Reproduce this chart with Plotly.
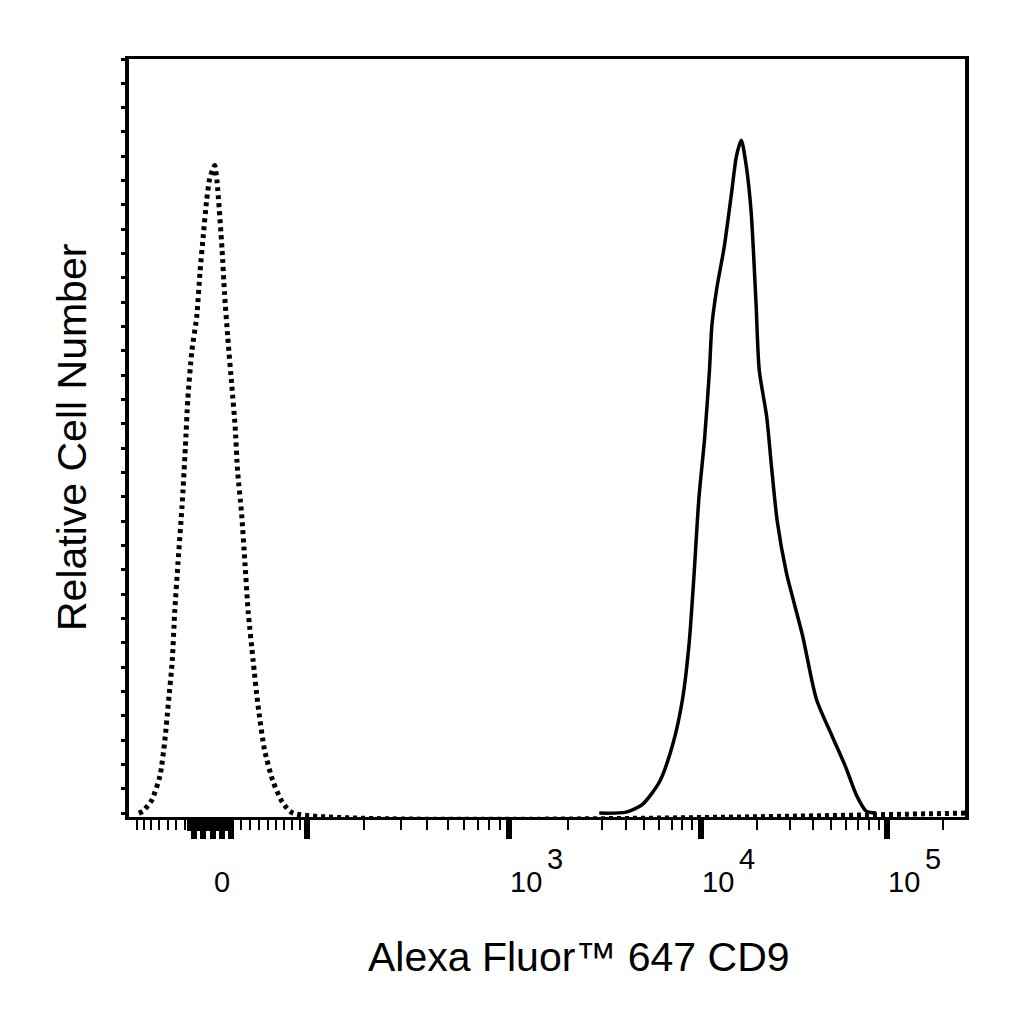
import numpy as np
import plotly.graph_objects as go

# histogram bins on the 1024-channel display scale and cells per bin
cd9_channel = [576, 609, 629, 650, 666, 678, 686, 692, 698, 705, 711, 714, 720, 729, 738, 744, 750,
               756, 762, 768, 772, 781, 787, 794, 805, 812, 825, 842, 861, 878, 891, 903, 915]
cd9_count = [0, 0.2, 1.8, 6.5, 14.1, 23.4, 34.7, 48.7, 64.6, 76.9, 91.0, 100.3, 107.9, 116.3, 127.4, 135.0, 138.3,
             133.1, 123.7, 104.9, 91.0, 81.6, 71.2, 60.0, 49.6, 44.9, 36.5, 23.4, 15.9, 9.4, 3.7, 0.4, 0]

iso_channel = [12, 17, 28, 38, 44, 48, 53, 56, 60, 65, 69, 72, 77, 83, 87, 91, 95, 99, 105, 108,
               114, 117, 121, 126, 130, 133, 138, 142, 146, 152, 158, 166, 176, 188, 201, 1024]
iso_count = [0, 0.4, 2.7, 7.7, 15.1, 22.2, 31.4, 41.4, 51.4, 63.2, 75.0, 85.0, 95.0, 102.1, 111.3, 118.7, 125.8, 130.5, 133.1, 129.5,
             115.8, 106.8, 97.7, 87.7, 79.5, 70.3, 61.4, 51.4, 41.4, 31.4, 22.2, 13.0, 6.7, 2.2, 0, 0]

major_vals = [-30, -20, -10, 0, 10, 100, 1000, 10000, 100000]
fill_vals = [-35, -25, -15, -5, 5]
minor_vals = ([-100, -90, -80, -70, -60, -50, -40] + [20, 30, 40, 50, 60, 70, 80, 90]
              + [k * 100 for k in range(2, 10)] + [k * 1000 for k in range(2, 10)]
              + [k * 10000 for k in range(2, 10)] + [200000])
label_vals = [0, 1000, 10000, 100000]
label_base = ["0", "10", "10", "10"]
label_exp = ["", "3", "4", "5"]

# logicle (biexponential) display scale
T, M, W, A = 262144.0, 4.5, 0.5, 0.0


def logicle_inv(y):
    w = W / (M + A)
    x1 = A / (M + A) + w
    x0 = A / (M + A) + 2 * w
    b = (M + A) * np.log(10)
    lo, hi = 1e-6, b
    for _ in range(100):
        d = (lo + hi) / 2
        if 2 * (np.log(d) - np.log(b)) + w * (b + d) > 0:
            hi = d
        else:
            lo = d
    ca = np.exp(x0 * (b + d))
    mfa = np.exp(b * x1) - ca / np.exp(d * x1)
    a = T / ((np.exp(b) - mfa) - ca / np.exp(d))
    c = ca * a
    f = -mfa * a
    y = np.asarray(y, dtype=float)
    yy = np.where(y >= x1, y, 2 * x1 - y)
    s = a * np.exp(b * yy) - c * np.exp(-d * yy) + f
    return np.where(y >= x1, s, -s)


grid = np.linspace(-0.05, 1.05, 40001)
grid_val = logicle_inv(grid)


def to_channel(v):
    return np.interp(np.asarray(v, dtype=float), grid_val, grid) * 1024


fig = go.Figure()
fig.add_trace(go.Scatter(x=iso_channel, y=iso_count, mode="lines",
                         line=dict(color="black", width=5, dash="4px,4px", shape="spline", smoothing=0.6)))
fig.add_trace(go.Scatter(x=cd9_channel, y=cd9_count, mode="lines",
                         line=dict(color="black", width=3.5, shape="spline", smoothing=0.7)))
# empty trace so the second tick axis is drawn
fig.add_trace(go.Scatter(x=[], y=[], xaxis="x2", hoverinfo="skip"))

font = "Liberation Sans, Arial, sans-serif"
ann = []
for v, base, ex in zip(label_vals, label_base, label_exp):
    xc = float(to_channel(v))
    if ex == "":
        ann.append(dict(x=xc, y=0, xref="x", yref="paper", text=base, showarrow=False,
                        xanchor="center", yanchor="middle", yshift=-65, font=dict(size=29)))
    else:
        ann.append(dict(x=xc, y=0, xref="x", yref="paper", text=base, showarrow=False,
                        xanchor="center", yanchor="middle", xshift=17, yshift=-65, font=dict(size=29)))
        ann.append(dict(x=xc, y=0, xref="x", yref="paper", text=ex, showarrow=False,
                        xanchor="center", yanchor="middle", xshift=46, yshift=-42, font=dict(size=29)))

ann.append(dict(x=0.538, y=0, xref="paper", yref="paper", text="Alexa Fluor™ 647 CD9", showarrow=False,
                xanchor="center", yanchor="middle", yshift=-140, font=dict(size=41)))
ann.append(dict(x=0, y=0.5, xref="paper", yref="paper", text="Relative Cell Number", showarrow=False,
                textangle=-90, xanchor="center", yanchor="middle", xshift=-57, font=dict(size=41)))

fig.update_layout(
    width=1008, height=1008,
    margin=dict(l=121, r=51, t=51, b=199),
    paper_bgcolor="white", plot_bgcolor="white",
    showlegend=False,
    font=dict(family=font, color="black"),
    annotations=ann,
    xaxis=dict(range=[0, 1024], showgrid=False, zeroline=False,
               showline=True, linecolor="black", linewidth=3, mirror=True,
               tickmode="array", tickvals=to_channel(major_vals), ticktext=[""] * len(major_vals),
               ticks="outside", ticklen=19, tickwidth=5.5, tickcolor="black",
               minor=dict(tickmode="array", tickvals=to_channel(minor_vals), ticks="outside",
                          ticklen=10, tickwidth=2, tickcolor="black")),
    xaxis2=dict(overlaying="x", side="bottom", matches="x", range=[0, 1024], showgrid=False, zeroline=False,
                showline=False, tickmode="array", tickvals=to_channel(fill_vals), ticktext=[""] * len(fill_vals),
                ticks="outside", ticklen=13, tickwidth=5, tickcolor="black"),
    yaxis=dict(range=[-0.8, 155], showgrid=False, zeroline=False,
               showline=True, linecolor="black", linewidth=3.5, mirror=True,
               tickmode="linear", tick0=0, dtick=5, showticklabels=False,
               ticks="outside", ticklen=4, tickwidth=2.5, tickcolor="black"),
)

fig.write_html("out.html")
